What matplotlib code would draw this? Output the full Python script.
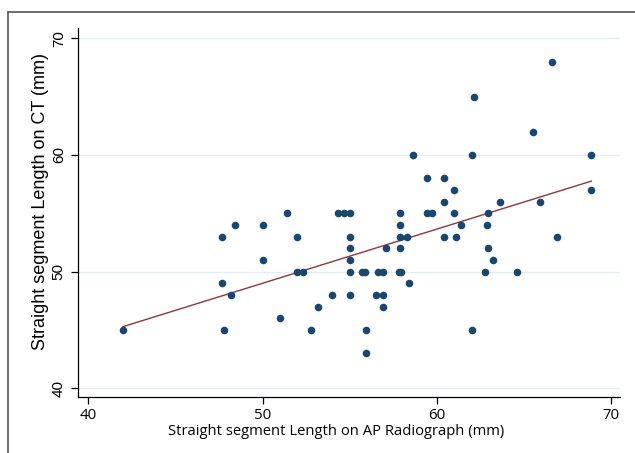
import numpy as np
import matplotlib
matplotlib.use('Agg')
import matplotlib.pyplot as plt
from matplotlib.lines import Line2D

# Straight segment length on AP radiograph (mm)
ap_len = [42.0, 47.7, 48.4, 50.0, 51.4, 52.0, 50.0, 52.0, 52.3, 47.7,
          48.2, 51.0, 47.8, 52.8, 53.2, 54.0, 54.3, 54.65, 55.0, 55.0,
          55.0, 55.0, 55.0, 55.0, 55.7, 55.9, 56.6, 56.9, 57.8, 57.95,
          58.4, 56.5, 56.9, 56.9, 55.95, 55.95, 57.9, 57.9, 57.9, 58.3,
          57.1, 57.9, 59.45, 59.7, 58.6, 62.0, 68.85, 59.45, 60.4, 61.0,
          68.85, 60.4, 63.6, 65.9, 61.0, 62.9, 61.4, 62.85, 60.4, 61.1,
          66.9, 62.9, 63.2, 62.75, 64.6, 62.0, 62.1, 65.5, 66.6]
# Straight segment length on CT (mm)
ct_len = [45, 53, 54, 54, 55, 53, 51, 50, 50, 49,
          48, 46, 45, 45, 47, 48, 55, 55, 55, 53,
          52, 51, 50, 48, 50, 50, 50, 50, 50, 50,
          49, 48, 48, 47, 45, 43, 55, 54, 53, 53,
          52, 52, 55, 55, 60, 60, 60, 58, 58, 57,
          57, 56, 56, 56, 55, 55, 54, 54, 53, 53,
          53, 52, 51, 50, 50, 45, 65, 62, 68]

x_ticks = [40, 50, 60, 70]
y_ticks = [40, 50, 60, 70]

plt.rcParams['font.family'] = ['Open Sans', 'DejaVu Sans']

fig = plt.figure(figsize=(6.35, 4.53), dpi=100)
ax = fig.add_axes([0.1233, 0.123, 0.853, 0.815])

x = np.array(ap_len)
y = np.array(ct_len)
ax.scatter(x, y, s=30, color='#1a476f', linewidths=0, zorder=3)

coef = np.polyfit(x, y, 1)
xs = np.array([x.min(), x.max()])
ax.plot(xs, np.polyval(coef, xs), color='#90353b', linewidth=1.0, zorder=2)

ax.set_xlim(39.44, 70.49)
ax.set_ylim(39.23, 70.87)
ax.set_xticks(x_ticks)
ax.set_yticks(y_ticks)
ax.set_xticklabels([str(v) for v in x_ticks], fontsize=10.8)
ax.set_yticklabels([str(v) for v in y_ticks], rotation=90, va='center',
                   family=['Liberation Sans', 'DejaVu Sans'], fontsize=11)
ax.tick_params(axis='both', direction='out', length=5, width=0.9, color='black')
ax.tick_params(axis='x', pad=3)
ax.tick_params(axis='y', pad=4)

ax.grid(axis='y', color='#e6eef1', linewidth=1.0)
ax.set_axisbelow(True)
for side in ['top', 'right']:
    ax.spines[side].set_visible(False)
for side in ['left', 'bottom']:
    ax.spines[side].set_linewidth(0.9)

ax.set_xlabel('Straight segment Length on AP Radiograph (mm)', fontsize=10.6, labelpad=3)
ax.xaxis.set_label_coords(0.4757, -0.072)
ax.set_ylabel('Straight segment Length on CT (mm)', fontsize=13,
              family=['Liberation Sans', 'DejaVu Sans'])
ax.yaxis.set_label_coords(-0.0707, 0.529)
ax.yaxis.label.set_va('center')

# outer frame (top and left edges)
fig.add_artist(Line2D([7.5 / 635, 1.0], [1 - 12 / 453, 1 - 12 / 453],
                      transform=fig.transFigure, color='#555555', linewidth=1.2))
fig.add_artist(Line2D([7.5 / 635, 7.5 / 635], [0.0, 1 - 12 / 453],
                      transform=fig.transFigure, color='#555555', linewidth=1.2))

fig.savefig('out.png', dpi=100, facecolor='white')
